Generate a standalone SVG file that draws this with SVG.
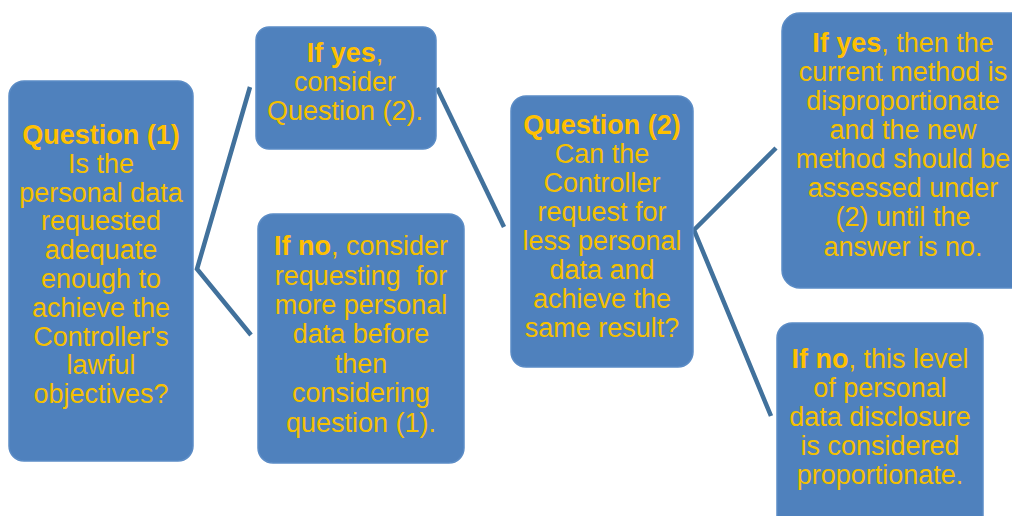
<svg xmlns="http://www.w3.org/2000/svg" width="1012" height="516" viewBox="0 0 1012 516">
<style>
.box{fill:#4f81bd;stroke:#5b8cc6;stroke-width:1.5}
.t{font-family:"Liberation Sans",Arial,sans-serif;font-size:27px;fill:#f5c000;text-anchor:middle}
.b{font-weight:bold;fill:#ffc000}
.c{stroke:#41719c;stroke-width:4.5;fill:none;stroke-linecap:butt;stroke-linejoin:miter}
</style>
<rect width="1012" height="516" fill="#ffffff"/>
<g id="connectors">
<polyline class="c" points="250,87 197,269 251,335"/>
<line class="c" x1="437" y1="88" x2="504" y2="227"/>
<polyline class="c" points="776,148 694,230 771,416"/>
</g>
<g id="q1">
<rect class="box" x="9" y="81" width="184" height="380" rx="15"/>
<text class="t"><tspan class="b" x="101" y="144">Question (1)</tspan><tspan x="101" y="173">Is the</tspan><tspan x="101" y="202">personal data</tspan><tspan x="101" y="230">requested</tspan><tspan x="101" y="259">adequate</tspan><tspan x="101" y="288">enough to</tspan><tspan x="101" y="317">achieve the</tspan><tspan x="101" y="346">Controller's</tspan><tspan x="101" y="374">lawful</tspan><tspan x="101" y="403">objectives?</tspan></text>
</g>
<g id="yes1">
<rect class="box" x="256" y="27" width="180" height="122" rx="13"/>
<text class="t"><tspan x="345" y="62"><tspan class="b">If yes</tspan>,</tspan><tspan x="345" y="91">consider</tspan><tspan x="345" y="120">Question (2).</tspan></text>
</g>
<g id="no1">
<rect class="box" x="258" y="214" width="206" height="249" rx="15"/>
<text class="t"><tspan x="361" y="255"><tspan class="b">If no</tspan>, consider</tspan><tspan x="361" y="285" xml:space="preserve">requesting  for</tspan><tspan x="361" y="314">more personal</tspan><tspan x="361" y="343">data before</tspan><tspan x="361" y="373">then</tspan><tspan x="361" y="402">considering</tspan><tspan x="361" y="432">question (1).</tspan></text>
</g>
<g id="q2">
<rect class="box" x="511" y="96" width="182" height="271" rx="15"/>
<text class="t"><tspan class="b" x="602" y="134">Question (2)</tspan><tspan x="602" y="163">Can the</tspan><tspan x="602" y="192">Controller</tspan><tspan x="602" y="221">request for</tspan><tspan x="602" y="250">less personal</tspan><tspan x="602" y="279">data and</tspan><tspan x="602" y="308">achieve the</tspan><tspan x="602" y="337">same result?</tspan></text>
</g>
<g id="yes2">
<rect class="box" x="782" y="13" width="250" height="275" rx="18"/>
<text class="t"><tspan x="903" y="52"><tspan class="b">If yes</tspan>, then the</tspan><tspan x="903" y="81">current method is</tspan><tspan x="903" y="110">disproportionate</tspan><tspan x="903" y="139">and the new</tspan><tspan x="903" y="168">method should be</tspan><tspan x="903" y="197">assessed under</tspan><tspan x="903" y="226">(2) until the</tspan><tspan x="903" y="256">answer is no.</tspan></text>
</g>
<g id="no2">
<rect class="box" x="777" y="323" width="206" height="215" rx="15"/>
<text class="t"><tspan x="880" y="368"><tspan class="b">If no</tspan>, this level</tspan><tspan x="880" y="397">of personal</tspan><tspan x="880" y="426">data disclosure</tspan><tspan x="880" y="455">is considered</tspan><tspan x="880" y="484">proportionate.</tspan></text>
</g>
</svg>
